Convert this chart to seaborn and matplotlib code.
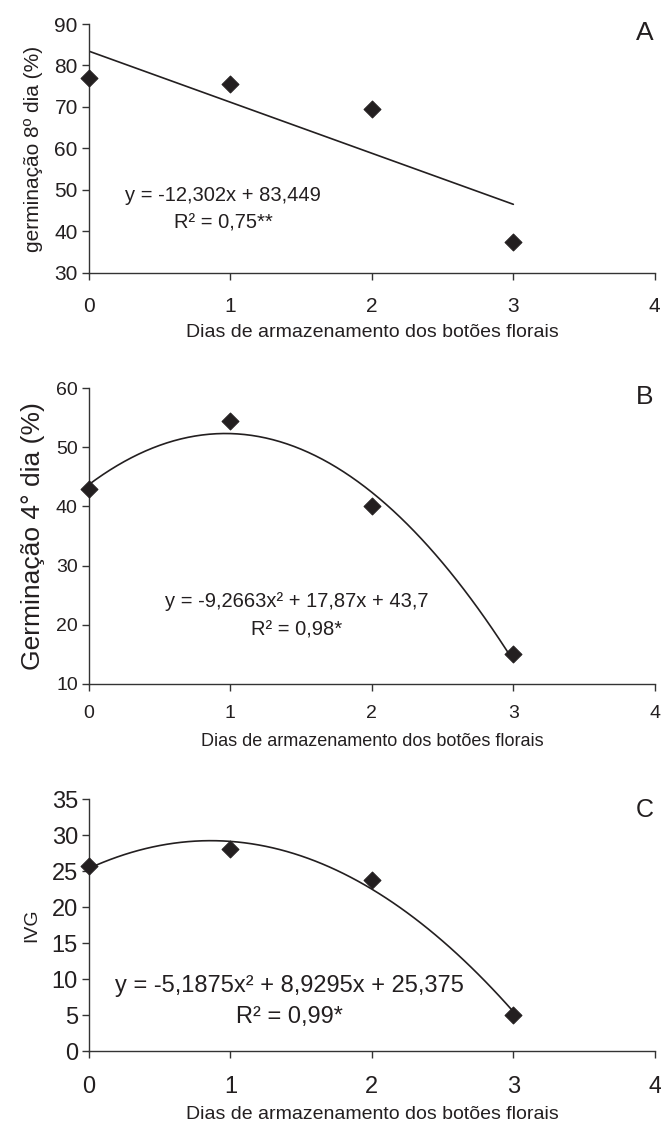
import numpy as np
import pandas as pd
import seaborn as sns
import matplotlib
matplotlib.use('Agg')
import matplotlib.pyplot as plt

# dias de armazenamento
dias = [0, 1, 2, 3]

germ8 = [77.0, 75.5, 69.5, 37.5]
germ4 = [43.0, 54.5, 40.0, 15.0]
ivg = [25.7, 28.0, 23.8, 5.0]

# coeficientes das equacoes de regressao (maior grau primeiro)
coef_a = [-12.302, 83.449]
coef_b = [-9.2663, 17.87, 43.7]
coef_c = [-5.1875, 8.9295, 25.375]

eq_a = ['y = -12,302x + 83,449', 'R² = 0,75**']
eq_b = ['y = -9,2663x² + 17,87x + 43,7', 'R² = 0,98*']
eq_c = ['y = -5,1875x² + 8,9295x + 25,375', 'R² = 0,99*']

xlabel = 'Dias de armazenamento dos botões florais'

sns.set_style("ticks")
plt.rcParams['font.family'] = ['Liberation Sans', 'DejaVu Sans']

dark = '#231f20'
fig = plt.figure(figsize=(6.61, 11.27), dpi=100)

panels = [
    dict(pos=[0.1346, 0.7578, 0.856, 0.2209], y=germ8, coef=coef_a, ylim=(30, 90), step=10,
         ylabel='germinação 8º dia (%)', eq=eq_a, ex=0.95, ey=(48.7, 42.1), letter='A', ly=87.8,
         tick=15, lab=14, ylab=15, eqs=14.5, lets=19, xpad=12, labpad=6),
    dict(pos=[0.1346, 0.3931, 0.856, 0.2626], y=germ4, coef=coef_b, ylim=(10, 60), step=10,
         ylabel='Germinação 4° dia (%)', eq=eq_b, ex=1.47, ey=(23.9, 19.1), letter='B', ly=58.4,
         tick=14, lab=13, ylab=19, eqs=14.5, lets=19, xpad=10, labpad=8),
    dict(pos=[0.1346, 0.0674, 0.856, 0.2236], y=ivg, coef=coef_c, ylim=(0, 35), step=5,
         ylabel='IVG', eq=eq_c, ex=1.42, ey=(9.1, 4.7), letter='C', ly=33.5,
         tick=17, lab=14, ylab=14, eqs=17, lets=18, xpad=13, labpad=6),
]

for p in panels:
    ax = fig.add_axes(p['pos'])
    df = pd.DataFrame({'dias': dias, 'valor': p['y']})
    xs = np.linspace(0, 3, 61)
    fit = pd.DataFrame({'dias': xs, 'valor': np.polyval(p['coef'], xs)})
    sns.lineplot(data=fit, x='dias', y='valor', ax=ax, color=dark, linewidth=1.2)
    sns.scatterplot(data=df, x='dias', y='valor', ax=ax, marker='D', s=75,
                    color=dark, edgecolor=dark, zorder=3, clip_on=False)
    ax.set_xlim(0, 4)
    ax.set_ylim(*p['ylim'])
    ax.set_xticks(range(0, 5))
    ax.set_yticks(np.arange(p['ylim'][0], p['ylim'][1] + 1, p['step']))
    sns.despine(ax=ax)
    for s in ['left', 'bottom']:
        ax.spines[s].set_color('#333333')
        ax.spines[s].set_linewidth(1.0)
    ax.tick_params(axis='both', colors='#333333', length=5, width=1.0,
                   labelsize=p['tick'], labelcolor=dark)
    ax.tick_params(axis='x', pad=p['xpad'])
    ax.tick_params(axis='y', pad=3)
    ax.set_xlabel(xlabel, fontsize=p['lab'], color=dark, labelpad=p['labpad'])
    ax.set_ylabel(p['ylabel'], fontsize=p['ylab'], color=dark, labelpad=8)
    ax.text(p['ex'], p['ey'][0], p['eq'][0], fontsize=p['eqs'], color=dark,
            ha='center', va='center')
    ax.text(p['ex'], p['ey'][1], p['eq'][1], fontsize=p['eqs'], color=dark,
            ha='center', va='center')
    ax.text(3.93, p['ly'], p['letter'], fontsize=p['lets'], color=dark,
            ha='center', va='center')

plt.savefig('out.png', dpi=100)
plt.close()
